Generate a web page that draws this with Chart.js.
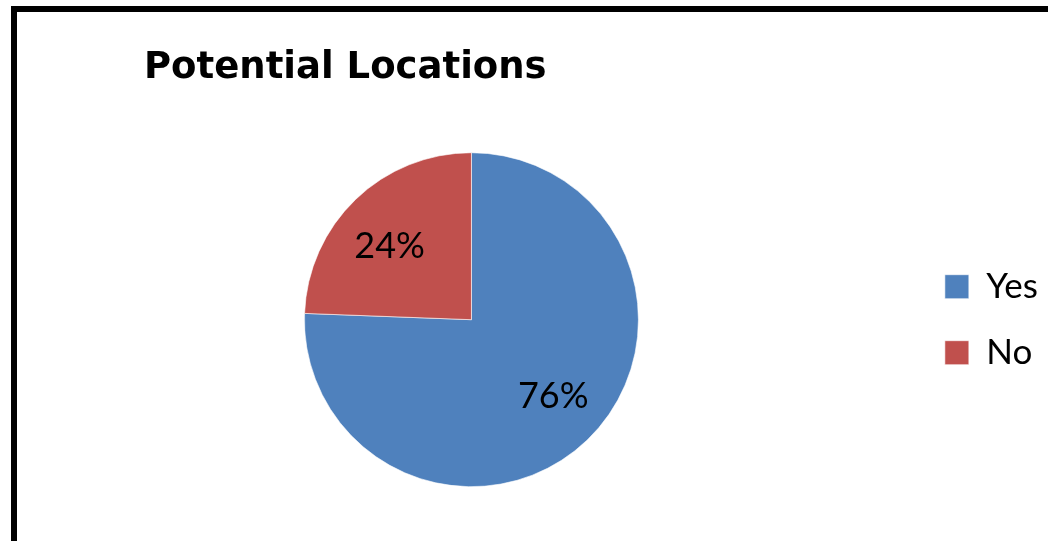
<!DOCTYPE html>
<html>
<head>
<meta charset="utf-8">
<script src="https://cdn.jsdelivr.net/npm/chart.js@4/dist/chart.umd.min.js"></script>
<style>
html,body{margin:0;padding:0;background:#fff;overflow:hidden;width:1048px;height:541px}
#wrap{position:absolute;left:0;top:0;width:1048px;height:541px}
#frame{position:absolute;left:11px;top:6px;width:2000px;height:2000px;border-left:6px solid #000;border-top:6px solid #000;pointer-events:none}
</style>
</head>
<body>
<div id="wrap"><canvas id="c" width="1048" height="541"></canvas></div>
<div id="frame"></div>
<script>
// ---- data ----
const chartTitle = 'Potential Locations';
const categories = ['Yes', 'No'];
const values = [75.6, 24.4];        // percent (shown rounded: 76% / 24%)
const colors = ['#4F81BD', '#C0504D'];

// draws the percentage inside each slice
const sliceLabels = {
  id: 'sliceLabels',
  afterDatasetsDraw(chart) {
    const ctx = chart.ctx;
    const meta = chart.getDatasetMeta(0);
    const data = chart.data.datasets[0].data;
    const total = data.reduce((a, b) => a + b, 0);
    ctx.save();
    ctx.font = '36px Lato';
    ctx.fillStyle = '#000';
    ctx.textAlign = 'center';
    ctx.textBaseline = 'middle';
    meta.data.forEach((arc, i) => {
      const p = arc.getProps(['x', 'y', 'startAngle', 'endAngle', 'outerRadius'], true);
      const mid = (p.startAngle + p.endAngle) / 2 - 0.061;
      const r = p.outerRadius * 0.665;
      const txt = Math.round(data[i] / total * 100) + '%';
      ctx.fillText(txt, p.x + Math.cos(mid) * r, p.y + Math.sin(mid) * r + 2);
    });
    ctx.restore();
  }
};

new Chart(document.getElementById('c'), {
  type: 'pie',
  data: {
    labels: categories,
    datasets: [{
      data: values,
      backgroundColor: colors,
      borderColor: 'rgba(255,255,255,0.6)',
      borderWidth: 1
    }]
  },
  options: {
    responsive: false,
    animation: false,
    radius: 167,
    layout: { padding: { left: 144, right: 0, top: 0, bottom: 0 } },
    plugins: {
      title: {
        display: true,
        text: chartTitle,
        align: 'start',
        color: '#000',
        font: { family: 'DejaVu Sans', weight: 'bold', size: 37 },
        padding: { top: 46, bottom: 8 }
      },
      subtitle: {
        display: true,
        position: 'right',
        fullSize: false,
        text: ' ',
        font: { size: 2, lineHeight: 1 },
        padding: { top: 56, bottom: 57 }
      },
      legend: {
        position: 'right',
        fullSize: false,
        weight: 3000,
        labels: {
          boxWidth: 24,
          boxHeight: 24,
          padding: 31,
          color: '#000',
          font: { family: 'Lato', size: 35 }
        }
      },
      tooltip: { enabled: false }
    }
  },
  plugins: [sliceLabels]
});
</script>
</body>
</html>
